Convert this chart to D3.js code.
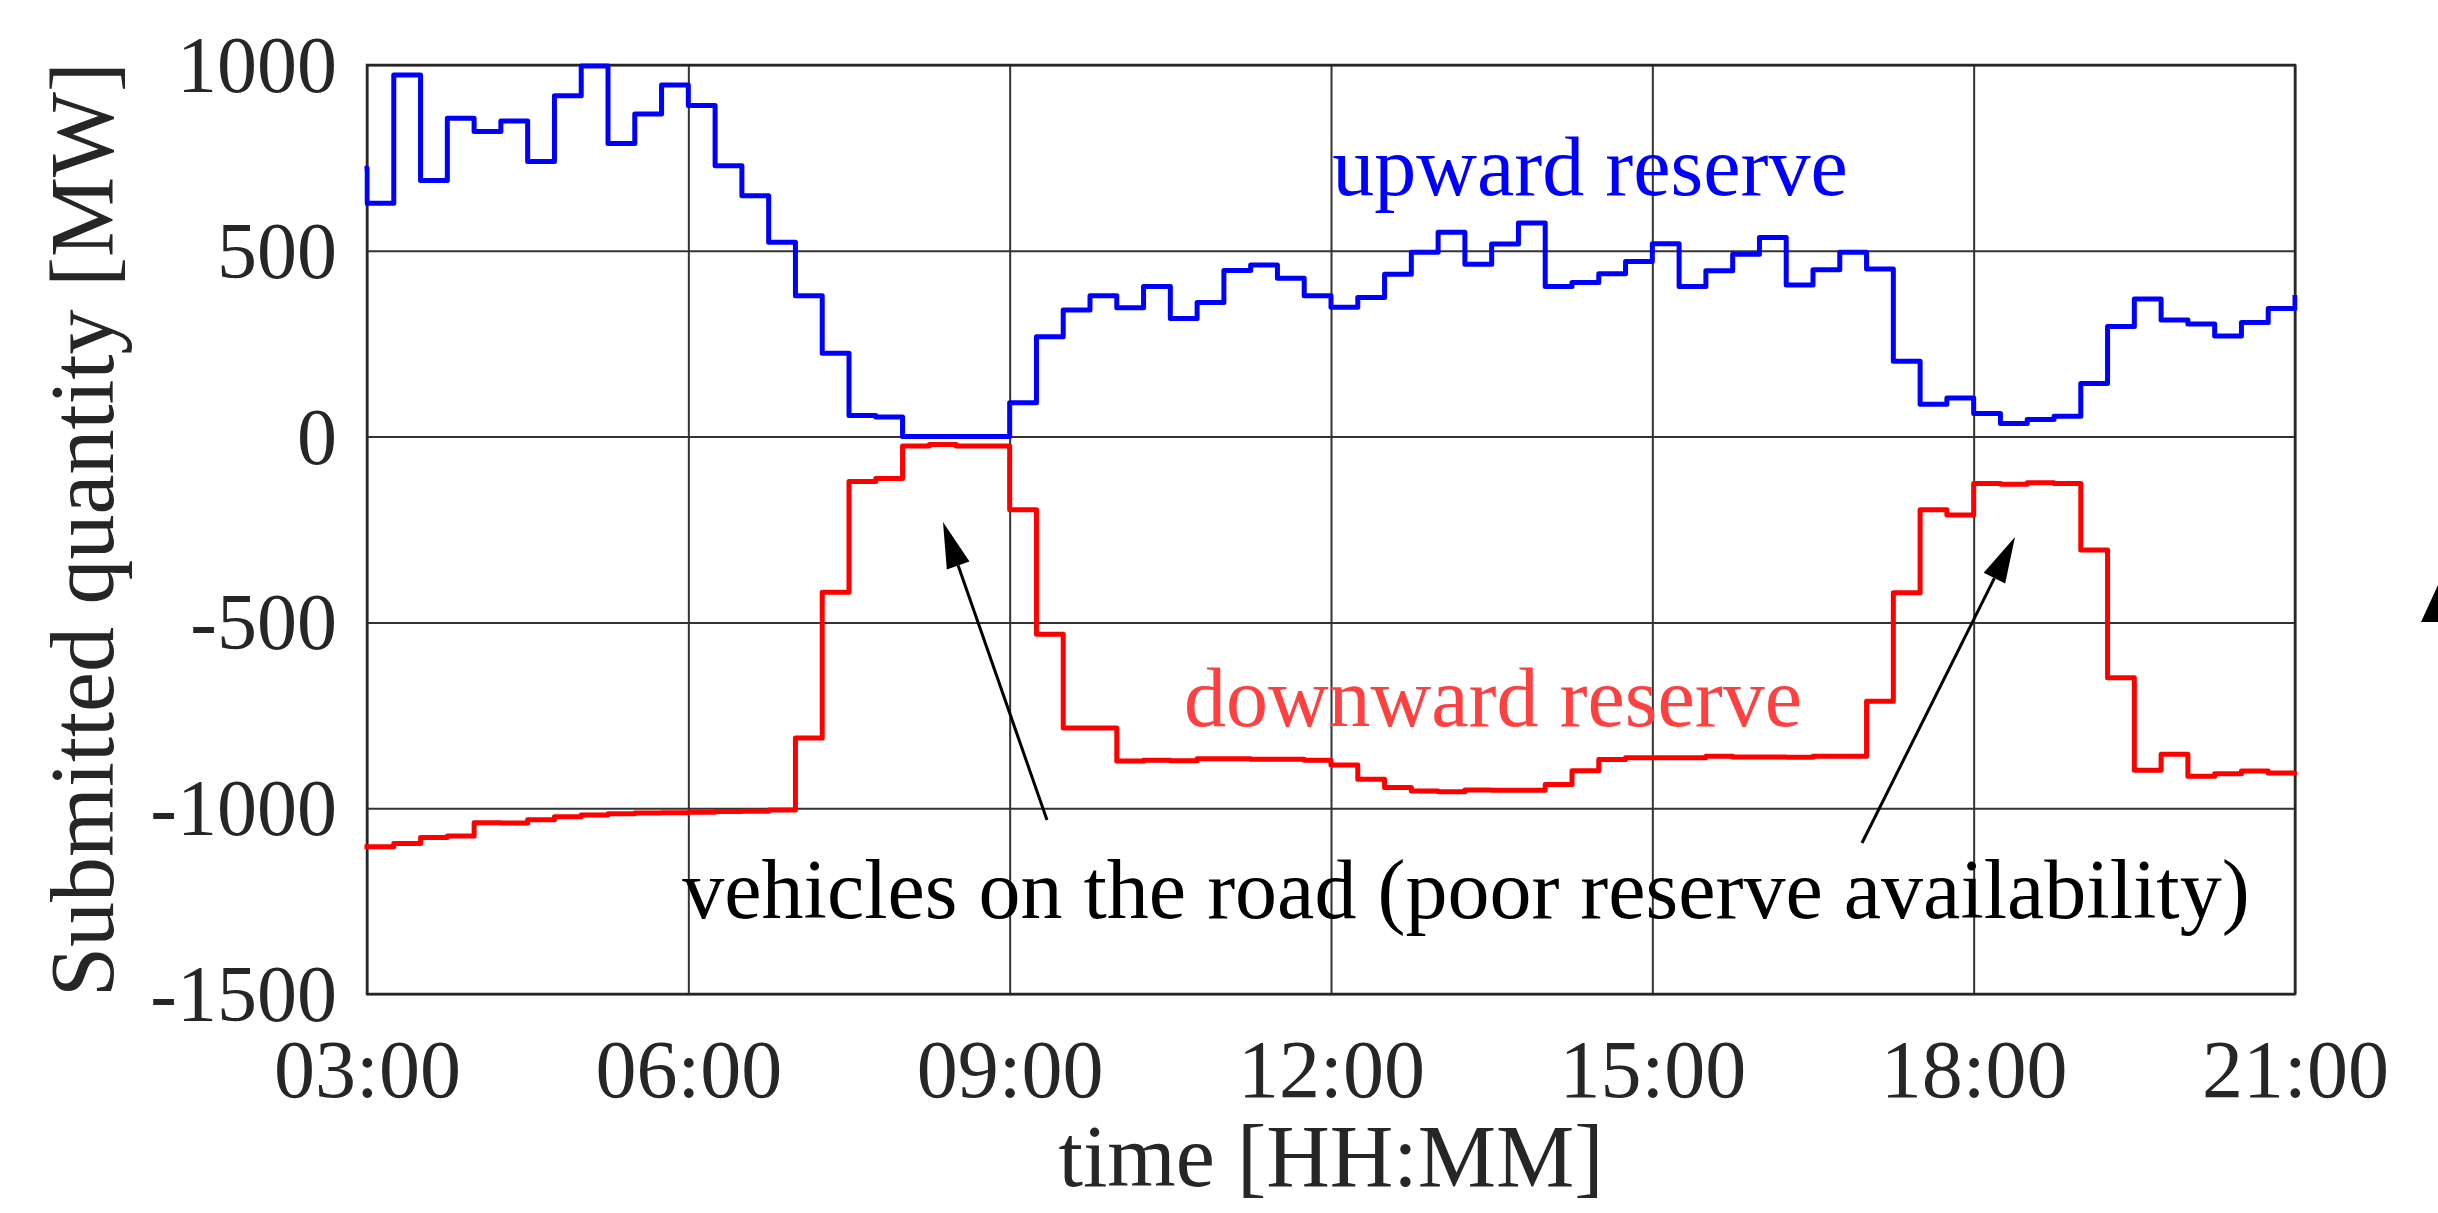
<!DOCTYPE html>
<html>
<head>
<meta charset="utf-8">
<script src="https://cdn.jsdelivr.net/npm/d3@7"></script>
<style>
  html, body { margin: 0; padding: 0; background: #ffffff; }
  svg { display: block; }
</style>
</head>
<body>
<svg id="chart" width="2438" height="1213"></svg>
<script>
// ---- data (15-minute steps, first point 02:45, last point 21:00) ----
const startHour = 2.75;
const stepHours = 0.25;
const upwardReserve = [722,
  628, 973, 689, 857, 821, 849, 740, 917, 997, 789, 868, 946,
  891, 729, 648, 523, 379, 224, 57, 53, 0, 0, 0, 0,
  91, 269, 341, 379, 347, 404, 318, 361, 447, 462, 426, 379,
  348, 374, 437, 496, 550, 464, 518, 575, 404, 415, 438, 471,
  519, 404, 446, 491, 536, 408, 449, 496, 451, 203, 87, 104,
  62, 35, 46, 55, 143, 296, 370, 314, 303, 271, 307, 345,
  381];
const downwardReserve = [-1104,
  -1104, -1095, -1079, -1075, -1039, -1040, -1031, -1023, -1018, -1015, -1013, -1012,
  -1011, -1009, -1008, -1005, -811, -419, -121, -113, -25, -21, -25, -25,
  -197, -532, -784, -784, -873, -871, -872, -867, -867, -868, -868, -871,
  -884, -922, -944, -954, -956, -951, -952, -952, -936, -899, -869, -864,
  -864, -864, -860, -862, -862, -863, -860, -860, -712, -420, -197, -211,
  -126, -128, -124, -126, -305, -649, -898, -855, -914, -907, -900, -905,
  -902];
const xTickValues = [3, 6, 9, 12, 15, 18, 21];
const xTickLabels = ["03:00", "06:00", "09:00", "12:00", "15:00", "18:00", "21:00"];
const yTickValues = [-1500, -1000, -500, 0, 500, 1000];
const yTickLabels = ["-1500", "-1000", "-500", "0", "500", "1000"];

// ---- layout ----
const X0 = 367, X1 = 2295, Y0 = 65, Y1 = 994;
const FONT = "'Liberation Serif', 'Times New Roman', serif";
const TXT = "#262626";

const svg = d3.select("#chart");
svg.append("rect").attr("width", 2438).attr("height", 1213).attr("fill", "#fff");

const x = d3.scaleLinear().domain([3, 21]).range([X0, X1]);
const y = d3.scaleLinear().domain([-1500, 1000]).range([Y1, Y0]);

// grid
const gx = svg.append("g").attr("transform", `translate(0,${Y1})`)
  .call(d3.axisBottom(x).tickValues(xTickValues).tickSize(-(Y1 - Y0)).tickFormat(""));
gx.select(".domain").remove();
gx.selectAll("line").attr("stroke", "#333").attr("stroke-width", 2);

const gy = svg.append("g").attr("transform", `translate(${X0},0)`)
  .call(d3.axisLeft(y).tickValues(yTickValues).tickSize(-(X1 - X0)).tickFormat(""));
gy.select(".domain").remove();
gy.selectAll("line").attr("stroke", "#333").attr("stroke-width", 2);

// box
svg.append("rect").attr("x", X0).attr("y", Y0).attr("width", X1 - X0).attr("height", Y1 - Y0)
  .attr("fill", "none").attr("stroke", TXT).attr("stroke-width", 2.5);

// tick labels
const lx = svg.append("g").attr("transform", `translate(0,${Y1})`)
  .call(d3.axisBottom(x).tickValues(xTickValues).tickSize(0)
    .tickFormat((d, i) => xTickLabels[i]));
lx.select(".domain").remove();
lx.selectAll("text").attr("y", 103).attr("dy", 0)
  .attr("font-family", FONT).attr("font-size", 82).attr("fill", TXT);

const ly = svg.append("g").attr("transform", `translate(${X0},0)`)
  .call(d3.axisLeft(y).tickValues(yTickValues).tickSize(0)
    .tickFormat((d, i) => yTickLabels[i]));
ly.select(".domain").remove();
ly.selectAll("text").attr("x", -30).attr("dy", "0.33em")
  .attr("font-family", FONT).attr("font-size", 80).attr("fill", TXT);

// axis titles
svg.append("text").attr("x", (X0 + X1) / 2).attr("y", 1186)
  .attr("text-anchor", "middle").attr("font-family", FONT).attr("font-size", 88)
  .attr("fill", TXT).text("time [HH:MM]");
svg.append("text").attr("transform", `translate(113,${(Y0 + Y1) / 2}) rotate(-90)`)
  .attr("text-anchor", "middle").attr("font-family", FONT).attr("font-size", 90)
  .attr("fill", TXT).text("Submitted quantity [MW]");

// clip
svg.append("clipPath").attr("id", "clip").append("rect")
  .attr("x", X0 - 2.5).attr("y", 0).attr("width", X1 - X0 + 5).attr("height", 1213);

const line = d3.line()
  .x((d, i) => x(startHour + i * stepHours))
  .y(d => y(d))
  .curve(d3.curveStepAfter);

const plot = svg.append("g").attr("clip-path", "url(#clip)");
plot.append("path").datum(upwardReserve).attr("d", line)
  .attr("fill", "none").attr("stroke", "#0000ff").attr("stroke-width", 5)
  .attr("stroke-linejoin", "round");
plot.append("path").datum(downwardReserve).attr("d", line)
  .attr("fill", "none").attr("stroke", "#ff0000").attr("stroke-width", 5)
  .attr("stroke-linejoin", "round");

// annotations
svg.append("text").attr("x", 1590).attr("y", 195).attr("text-anchor", "middle")
  .attr("font-family", FONT).attr("font-size", 84).attr("fill", "#0000ff").text("upward reserve");
svg.append("text").attr("x", 1493).attr("y", 726).attr("text-anchor", "middle")
  .attr("font-family", FONT).attr("font-size", 84).attr("fill", "#ff4040").text("downward reserve");
svg.append("text").attr("x", 1466).attr("y", 918).attr("text-anchor", "middle")
  .attr("font-family", FONT).attr("font-size", 84).attr("fill", "#000")
  .text("vehicles on the road (poor reserve availability)");

function arrow(tail, tip) {
  const dx = tip[0] - tail[0], dy = tip[1] - tail[1];
  const L = Math.hypot(dx, dy), ux = dx / L, uy = dy / L;
  const hl = 46, hw = 12;
  const bx = tip[0] - ux * hl, by = tip[1] - uy * hl;
  svg.append("line").attr("x1", tail[0]).attr("y1", tail[1]).attr("x2", bx).attr("y2", by)
    .attr("stroke", "#000").attr("stroke-width", 3);
  svg.append("polygon")
    .attr("points", [[tip[0], tip[1]], [bx - uy * hw, by + ux * hw], [bx + uy * hw, by - ux * hw]]
      .map(p => p.join(",")).join(" "))
    .attr("fill", "#000");
}
arrow([1047, 820], [943, 522]);
arrow([1862, 843], [2015, 537]);

// partial shape cut off at right edge
svg.append("polygon").attr("points", "2421,622 2438,622 2438,585").attr("fill", "#000");
</script>
</body>
</html>
